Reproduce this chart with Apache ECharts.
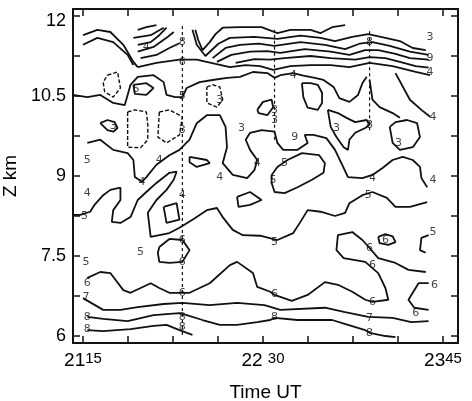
<!DOCTYPE html>
<html>
<head>
<meta charset="utf-8">
<script src="https://cdn.jsdelivr.net/npm/echarts@6/dist/echarts.min.js"></script>
<style>
  html, body { margin: 0; background: #fff; }
  #chart { width: 472px; height: 401px; }
</style>
</head>
<body>
<div id="chart"></div>
<script>
// axis ticks (time in decimal hours UT, height in km)
const timeTicks = [21.25, 21.5625, 21.875, 22.1875, 22.5, 22.8125, 23.125, 23.4375, 23.75];
const timeLabels = [21.25, 22.5, 23.75];
const heightTicks = [6, 6.75, 7.5, 8.25, 9, 9.75, 10.5, 11.25, 12];
const heightLabels = [6, 7.5, 9, 10.5, 12];

// contour lines, [time, height]
const c8low = [[21.28,6.11],[21.39,6.09],[21.58,6.13],[21.74,6.19],[21.83,6.21],[21.92,6.11],[22.01,6.02]];
const c8 = [[21.28,6.36],[21.39,6.32],[21.56,6.28],[21.74,6.39],[21.92,6.43],[21.97,6.39],[22.08,6.30],[22.20,6.21],[22.32,6.21],[22.46,6.26],[22.55,6.30],[22.58,6.34],[22.74,6.30],[22.98,6.30],[23.09,6.21],[23.21,6.11],[23.24,6.06],[23.35,6.00],[23.42,5.98]];
const c7 = [[21.25,6.71],[21.39,6.49],[21.51,6.49],[21.63,6.54],[21.81,6.60],[21.94,6.62],[22.13,6.58],[22.32,6.62],[22.51,6.58],[22.62,6.49],[22.93,6.53],[23.07,6.45],[23.23,6.36],[23.40,6.34],[23.53,6.26],[23.65,6.28]];
const c6 = [[21.28,7.09],[21.37,7.20],[21.44,7.18],[21.53,6.86],[21.58,6.81],[21.72,6.99],[21.78,6.90],[21.85,6.81],[21.99,6.81],[22.13,6.99],[22.27,7.33],[22.32,7.39],[22.43,7.18],[22.46,6.92],[22.55,6.83],[22.58,6.77],[22.70,6.66],[22.81,6.77],[22.93,7.01],[23.02,6.96],[23.12,6.83],[23.21,6.68],[23.26,6.64],[23.37,6.68],[23.35,6.90],[23.30,7.18],[23.21,7.39],[23.06,7.46],[23.01,7.61],[23.02,7.89],[23.12,7.95],[23.19,7.80],[23.24,7.65],[23.30,7.46],[23.42,7.37],[23.51,7.24],[23.63,7.20]];
const c6loopA = [[21.78,7.67],[21.85,7.82],[21.94,7.80],[21.99,7.61],[21.94,7.39],[21.85,7.37],[21.78,7.39],[21.77,7.56],[21.78,7.67]];
const c6loopB = [[23.30,7.86],[23.35,7.91],[23.40,7.87],[23.42,7.76],[23.37,7.71],[23.31,7.74],[23.30,7.86]];
const c6right = [[23.65,6.99],[23.58,6.99],[23.51,6.68],[23.55,6.53],[23.65,6.49]];
const c5right = [[23.65,7.89],[23.60,7.84],[23.59,7.61],[23.63,7.56]];
const c5 = [[21.18,8.27],[21.23,8.27],[21.30,8.33],[21.33,8.46],[21.39,8.64],[21.44,8.74],[21.51,8.78],[21.51,8.55],[21.46,8.36],[21.45,8.14],[21.51,8.12],[21.58,8.23],[21.63,8.55],[21.69,8.70],[21.76,8.87],[21.85,9.06],[21.90,9.08],[21.88,8.93],[21.83,8.74],[21.76,8.55],[21.70,8.31],[21.72,7.86],[21.85,7.93],[21.92,8.03],[22.01,8.18],[22.11,8.36],[22.18,8.40],[22.22,8.23],[22.29,7.99],[22.36,7.89],[22.48,7.88],[22.60,7.80],[22.71,7.93],[22.76,8.14],[22.81,8.36],[22.90,8.33],[23.00,8.25],[23.07,8.31],[23.10,8.49],[23.19,8.64],[23.26,8.70],[23.36,8.59],[23.42,8.42],[23.52,8.42],[23.64,8.51]];
const c5loopA = [[22.56,9.02],[22.60,9.17],[22.67,9.30],[22.77,9.43],[22.89,9.39],[22.93,9.24],[22.92,9.06],[22.84,8.93],[22.74,8.79],[22.65,8.68],[22.58,8.70],[22.56,8.87],[22.56,9.02]];
const c5loopB = [[22.32,8.61],[22.41,8.70],[22.49,8.55],[22.41,8.46],[22.33,8.42],[22.32,8.61]];
const c4loopA = [[21.81,8.42],[21.90,8.49],[21.92,8.18],[21.83,8.12],[21.81,8.42]];
const c4loopB = [[21.99,9.36],[22.11,9.30],[22.13,9.24],[22.04,9.17],[21.99,9.26],[21.99,9.36]];
const c4 = [[21.28,9.62],[21.37,9.68],[21.46,9.49],[21.56,9.43],[21.60,9.30],[21.61,8.98],[21.66,8.89],[21.69,8.98],[21.76,9.21],[21.85,9.39],[21.92,9.49],[21.99,9.68],[22.04,9.99],[22.11,10.14],[22.20,10.14],[22.24,9.92],[22.25,9.54],[22.22,9.24],[22.29,9.02],[22.39,8.96],[22.44,9.11],[22.46,9.30],[22.41,9.49],[22.38,9.68],[22.41,9.81],[22.49,9.86],[22.58,9.83],[22.60,9.62],[22.64,9.49],[22.74,9.49],[22.81,9.62],[22.79,9.77],[22.85,9.77],[22.94,9.71],[23.00,9.49],[23.05,9.21],[23.09,8.98],[23.19,8.96],[23.26,9.02],[23.33,9.15],[23.40,9.30],[23.47,9.36],[23.54,9.30],[23.59,9.17],[23.60,8.96],[23.64,8.79]];
const c3loopA = [[21.37,9.99],[21.42,10.05],[21.47,10.01],[21.49,9.90],[21.46,9.83],[21.42,9.86],[21.37,9.99]];
const c3loopB = [[21.56,10.20],[21.61,10.24],[21.69,10.20],[21.70,9.96],[21.70,9.68],[21.65,9.53],[21.56,9.54],[21.56,9.86],[21.56,10.20]];
const c3loopC = [[21.78,10.20],[21.85,10.24],[21.94,10.11],[21.92,9.77],[21.83,9.62],[21.77,9.73],[21.78,10.20]];
const c3loopD = [[22.11,10.67],[22.15,10.71],[22.20,10.67],[22.22,10.43],[22.18,10.29],[22.11,10.37],[22.11,10.67]];
const c3loopE = [[22.95,10.24],[22.97,9.92],[23.01,9.73],[23.06,9.54],[23.09,9.49],[23.10,9.68],[23.14,9.81],[23.21,9.90],[23.24,9.96],[23.22,10.05],[23.14,10.01],[23.08,10.09],[23.02,10.18],[22.95,10.24]];
const c3loopF = [[23.38,9.92],[23.40,9.62],[23.45,9.49],[23.54,9.54],[23.59,9.73],[23.57,9.99],[23.50,10.05],[23.42,10.01],[23.38,9.92]];
const c3loopG = [[22.77,10.74],[22.78,10.48],[22.81,10.28],[22.88,10.24],[22.91,10.37],[22.91,10.56],[22.88,10.71],[22.83,10.74],[22.77,10.74]];
const c3loopH = [[22.46,10.24],[22.50,10.39],[22.56,10.43],[22.57,10.29],[22.53,10.14],[22.47,10.18],[22.46,10.24]];
const c5loopC = [[21.42,10.89],[21.49,10.95],[21.51,10.65],[21.46,10.48],[21.40,10.58],[21.39,10.76],[21.42,10.89]];
const c5loopD = [[21.60,10.71],[21.69,10.74],[21.74,10.65],[21.69,10.52],[21.61,10.54],[21.60,10.71]];
const c105 = [[21.18,10.52],[21.28,10.48],[21.37,10.52],[21.46,10.37],[21.54,10.33],[21.56,10.52],[21.58,10.71],[21.63,10.86],[21.74,10.89],[21.81,10.76],[21.83,10.52],[21.89,10.48],[21.94,10.48],[21.97,10.65],[22.06,10.76],[22.15,10.80],[22.25,10.84],[22.34,10.86],[22.43,10.95],[22.53,10.93],[22.58,10.84],[22.62,10.89],[22.71,10.93],[22.78,10.88],[22.86,10.84],[22.92,10.80],[22.99,10.67],[23.03,10.46],[23.10,10.39],[23.16,10.52],[23.19,10.74],[23.22,10.86]];
const c4rightA = [[23.24,10.80],[23.26,10.43],[23.31,10.29],[23.40,10.18],[23.45,10.09]];
const c4rightB = [[23.42,10.93],[23.52,10.43],[23.60,10.24],[23.66,10.11]];
const topLeftA = [[21.25,11.64],[21.35,11.74],[21.44,11.70],[21.53,11.46],[21.60,11.14],[21.63,11.04]];
const topLeftB = [[21.25,11.46],[21.35,11.59],[21.46,11.51],[21.56,11.27],[21.60,11.08]];
const diagA = [[21.63,11.74],[21.69,11.79],[21.76,11.83]];
const diagB = [[21.60,11.59],[21.72,11.64],[21.81,11.78]];
const diagC = [[21.63,11.46],[21.72,11.51],[21.78,11.64],[21.83,11.78]];
const diagD = [[21.63,11.33],[21.74,11.42],[21.83,11.59],[21.88,11.70]];
const diagE = [[21.65,11.21],[21.76,11.27],[21.85,11.40],[21.92,11.49]];
const bandA = [[22.03,11.74],[22.05,11.55],[22.08,11.36],[22.13,11.51],[22.17,11.66],[22.22,11.78],[22.34,11.79],[22.49,11.79],[22.60,11.68],[22.69,11.74],[22.83,11.74],[22.90,11.68],[22.98,11.79],[23.07,11.83]];
const bandB = [[22.01,11.74],[22.04,11.46],[22.10,11.25],[22.19,11.48],[22.27,11.59],[22.44,11.61],[22.60,11.57],[22.76,11.63],[22.90,11.59],[23.00,11.53],[23.12,11.61],[23.23,11.66],[23.35,11.59],[23.45,11.53],[23.54,11.40],[23.63,11.36]];
const bandC = [[22.15,11.21],[22.24,11.40],[22.34,11.46],[22.47,11.48],[22.58,11.44],[22.76,11.51],[22.93,11.46],[23.07,11.38],[23.17,11.48],[23.26,11.51],[23.38,11.44],[23.52,11.33],[23.65,11.27]];
const bandD = [[22.18,11.14],[22.28,11.27],[22.41,11.33],[22.53,11.34],[22.62,11.31],[22.79,11.38],[22.97,11.33],[23.10,11.27],[23.21,11.36],[23.30,11.36],[23.42,11.29],[23.52,11.21],[23.65,11.18]];
const bandE = [[22.31,11.12],[22.44,11.19],[22.55,11.18],[22.65,11.21],[22.83,11.25],[22.97,11.21],[23.14,11.18],[23.24,11.23],[23.35,11.21],[23.45,11.14],[23.56,11.06],[23.65,11.03]];
const bandF = [[21.63,11.04],[21.76,11.12],[21.92,11.18],[22.04,11.18],[22.17,11.10],[22.27,11.04],[22.38,11.08],[22.48,11.06],[22.57,10.99],[22.69,11.06],[22.83,11.08],[22.97,11.08],[23.10,11.04],[23.24,11.12],[23.40,11.06],[23.56,10.95],[23.66,10.89]];

// flight tracks (dashed verticals)
const trackA = [[21.94,6.02],[21.94,11.83]];
const trackB = [[22.58,9.68],[22.58,11.74]];
const trackC = [[23.24,9.86],[23.24,11.74]];

// contour value labels, [time, height, text]
const contourLabels = [
  [21.28,9.30,'5'],[21.28,8.68,'4'],[21.26,8.25,'5'],[21.65,7.58,'5'],[21.27,7.39,'5'],
  [21.28,6.99,'6'],[21.27,6.73,'7'],[21.28,6.36,'8'],[21.28,6.13,'8'],
  [21.94,11.51,'8'],[21.94,11.14,'6'],[21.94,10.50,'5'],[21.94,9.86,'3'],[21.94,8.64,'4'],
  [21.94,7.80,'6'],[21.94,7.39,'6'],[21.94,6.81,'6'],[21.94,6.36,'8'],[21.94,6.17,'8'],
  [22.58,7.76,'5'],[22.58,6.79,'6'],[22.58,6.36,'8'],[23.24,7.65,'6'],[23.26,7.33,'6'],
  [23.26,6.64,'6'],[23.24,6.34,'7'],[23.24,6.06,'8'],[23.69,6.96,'6'],[23.56,6.43,'6'],
  [23.68,7.95,'5'],[23.35,7.80,'6'],[23.23,8.64,'5'],[22.65,9.24,'5'],[22.57,8.93,'5'],
  [23.26,8.96,'4'],[23.68,8.93,'4'],[23.68,10.11,'4'],[23.66,11.61,'3'],[23.66,11.21,'9'],
  [23.66,10.95,'4'],[22.71,10.89,'4'],[23.01,9.90,'3'],[23.24,9.96,'8'],[23.44,9.62,'3'],
  [22.20,10.43,'3'],[21.46,9.94,'3'],[22.35,9.90,'3'],[22.72,9.73,'9'],[21.69,11.42,'4'],
  [22.20,8.98,'4'],[22.46,9.24,'4'],[21.66,8.89,'4'],[21.78,9.30,'4'],[22.58,10.24,'3'],
  [22.58,10.05,'3'],[23.24,11.51,'8'],[21.62,10.62,'5']
];

const solidLines = [c8low, c8, c7, c6, c6loopA, c6loopB, c6right, c5right, c5, c5loopA, c5loopB,
  c4loopA, c4loopB, c4, c3loopA, c3loopE, c3loopF, c3loopG, c3loopH, c5loopD, c105, c4rightA, c4rightB,
  topLeftA, topLeftB, diagA, diagB, diagC, diagD, diagE, bandA, bandB, bandC, bandD, bandE, bandF];
const dashedLines = [c3loopB, c3loopC, c3loopD, c5loopC];
const tracks = [trackA, trackB, trackC];

const chart = echarts.init(document.getElementById('chart'));

const ink = '#111';
const series = [];
solidLines.forEach(d => series.push({
  type: 'line', data: d, symbol: 'none', clip: false, silent: true,
  lineStyle: { color: ink, width: 1.8 }
}));
dashedLines.forEach(d => series.push({
  type: 'line', data: d, symbol: 'none', clip: false, silent: true,
  lineStyle: { color: ink, width: 1.4, type: [4, 2] }
}));
tracks.forEach(d => series.push({
  type: 'line', data: d, symbol: 'none', clip: false, silent: true,
  lineStyle: { color: ink, width: 1.2, type: [3, 3] }
}));
series.push({
  type: 'scatter', data: contourLabels, symbolSize: 1, clip: false, silent: true,
  itemStyle: { color: 'rgba(0,0,0,0)' },
  label: {
    show: true, position: 'inside', formatter: p => p.value[2],
    fontSize: 11, fontFamily: 'DejaVu Sans', color: ink
  }
});

const tickStyle = { show: true, inside: true, length: 7, lineStyle: { color: ink, width: 1.5 } };
const lineStyleAxis = { show: true, lineStyle: { color: ink, width: 2 } };

chart.setOption({
  animation: false,
  backgroundColor: '#fff',
  grid: { left: 73, right: 14, top: 9, bottom: 58, containLabel: false, outerBoundsMode: 'none' },
  xAxis: [{
    type: 'value', position: 'bottom', min: 21.1806, max: 23.854,
    axisLine: lineStyleAxis,
    axisTick: Object.assign({ customValues: timeTicks }, tickStyle),
    splitLine: { show: false },
    axisLabel: {
      customValues: timeLabels, margin: 8, color: '#000',
      formatter: v => {
        const h = Math.floor(v + 1e-9);
        const m = Math.round((v - h) * 60);
        return '{h|' + h + (h === 22 ? ' ' : '') + '}{m|' + m + '}';
      },
      rich: {
        h: { fontSize: 19, fontFamily: 'Liberation Sans', color: '#000' },
        m: { fontSize: 15, fontFamily: 'Liberation Sans', color: '#000', verticalAlign: 'top' }
      }
    },
    name: 'Time UT', nameLocation: 'middle', nameGap: 40,
    nameTextStyle: { fontSize: 19, fontFamily: 'Liberation Sans', color: '#000' }
  }, {
    type: 'value', position: 'top', min: 21.1806, max: 23.854,
    axisLine: lineStyleAxis,
    axisTick: Object.assign({ customValues: timeTicks }, tickStyle),
    splitLine: { show: false }, axisLabel: { show: false }
  }],
  yAxis: [{
    type: 'value', position: 'left', min: 5.869, max: 12.131,
    axisLine: lineStyleAxis,
    axisTick: Object.assign({ customValues: heightTicks }, tickStyle),
    splitLine: { show: false },
    axisLabel: {
      customValues: heightLabels, margin: 7, color: '#000',
      fontSize: 18, fontFamily: 'Liberation Sans',
      formatter: v => (v === 12 ? '{top|12}' : String(v)),
      rich: { top: { fontSize: 18, fontFamily: 'Liberation Sans', color: '#000', padding: [10, 0, 0, 0] } }
    },
    name: 'Z km', nameLocation: 'middle', nameGap: 44, nameRotate: 90,
    nameTextStyle: { fontSize: 19, fontFamily: 'Liberation Sans', color: '#000' }
  }, {
    type: 'value', position: 'right', min: 5.869, max: 12.131,
    axisLine: lineStyleAxis,
    axisTick: Object.assign({ customValues: heightTicks }, tickStyle),
    splitLine: { show: false }, axisLabel: { show: false }
  }],
  series: series
});
</script>
</body>
</html>
